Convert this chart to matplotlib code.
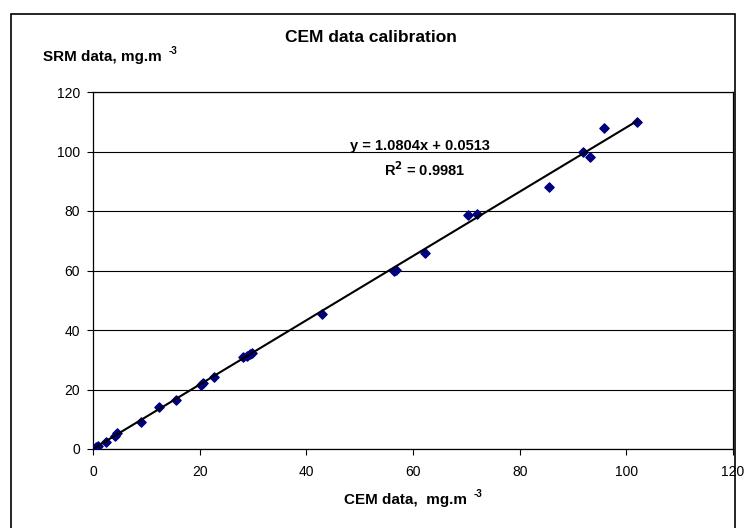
import matplotlib.pyplot as plt
from matplotlib.patches import Rectangle

plt.rcParams['font.family'] = ['Liberation Sans', 'DejaVu Sans']

# CEM (x) vs SRM (y) readings, mg/m3
cem = [0.0, 0.5, 1.0, 2.4, 4.2, 4.5, 9.0, 12.4, 15.6, 20.3, 20.7, 22.6,
       28.2, 28.8, 29.4, 29.8, 43.0, 56.5, 56.8, 62.3, 70.3, 72.0,
       85.5, 91.9, 93.2, 95.9, 102.0]
srm = [0.0, 0.6, 1.0, 2.3, 4.5, 5.3, 9.1, 14.1, 16.4, 21.5, 22.3, 24.1,
       30.8, 31.3, 31.8, 32.3, 45.5, 60.0, 60.3, 66.0, 78.8, 78.9,
       88.2, 99.9, 98.2, 107.9, 110.0]

slope = 1.0804
intercept = 0.0513
r2 = 0.9981

fig = plt.figure(figsize=(7.48, 5.28), dpi=100)
fig.patches.append(Rectangle((11 / 748, -0.01), 724 / 748, 1 - 14 / 528 + 0.01,
                             transform=fig.transFigure, fill=False,
                             edgecolor='black', lw=1.2))
ax = fig.add_axes([93 / 748, 1 - 449 / 528, 640 / 748, 357 / 528])

ax.scatter(cem, srm, marker='D', s=22, color='#000080', zorder=3)
xl = [min(cem), max(cem)]
ax.plot(xl, [slope * v + intercept for v in xl], color='black', lw=1.5, zorder=4)

ax.set_xlim(0, 120)
ax.set_ylim(0, 120)
ax.set_xticks(range(0, 121, 20))
ax.set_yticks(range(0, 121, 20))
ax.grid(axis='y', color='black', lw=0.8)
ax.set_axisbelow(True)
for s in ax.spines.values():
    s.set_linewidth(0.9)
ax.tick_params(direction='out', length=4.5, labelsize=10, width=0.8, pad=5)
ax.tick_params(axis='x', pad=7)

ax.text(61.3, 101.9, 'y = 1.0804x + 0.0513', ha='center', va='center',
        fontsize=10.5, fontweight='bold')
ax.text(62.2, 93.9, r'R$^\mathbf{2}$ = 0.9981', ha='center', va='center',
        fontsize=10.5, fontweight='bold')

fig.text(371 / 748, 1 - 37 / 528, 'CEM data calibration', ha='center',
         va='center', fontsize=12.5, fontweight='bold')
fig.text(43 / 748, 1 - 57 / 528, 'SRM data, mg.m', ha='left',
         va='center', fontsize=11, fontweight='bold')
fig.text(169 / 748, 1 - 51 / 528, '-3', ha='left',
         va='center', fontsize=7, fontweight='bold')
fig.text(344 / 748, 1 - 500 / 528, 'CEM data,  mg.m', ha='left',
         va='center', fontsize=11, fontweight='bold')
fig.text(474 / 748, 1 - 494 / 528, '-3', ha='left',
         va='center', fontsize=7, fontweight='bold')

fig.savefig('out.png', dpi=100)
